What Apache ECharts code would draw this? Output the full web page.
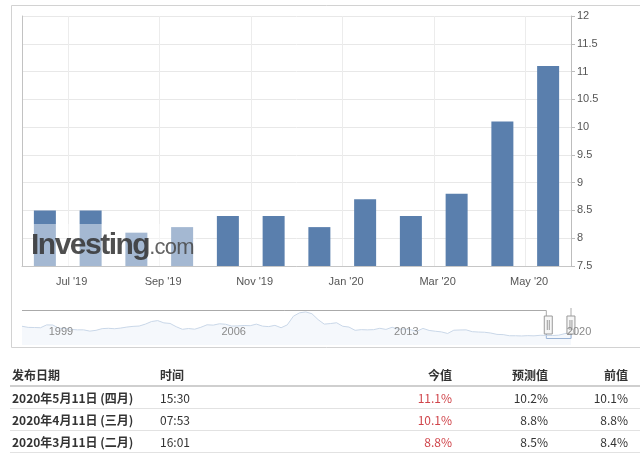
<!DOCTYPE html>
<html>
<head>
<meta charset="utf-8">
<script src="https://cdn.jsdelivr.net/npm/echarts@6/dist/echarts.min.js"></script>
<style>
  html, body { margin: 0; padding: 0; background: #fff; width: 640px; height: 455px; overflow: hidden; }
  #chart { position: absolute; left: 0; top: 0; width: 640px; height: 455px; }
  #wmbg { position: absolute; left: 33px; top: 224px; width: 163px; height: 42px; background: rgba(255,255,255,0.45); }
  #wm { position: absolute; left: 31px; top: 229px; white-space: nowrap; line-height: 30px; font-family: "Liberation Sans", Arial, sans-serif; }
  #wm .b { font-size: 30px; font-weight: bold; letter-spacing: -1.5px; color: rgba(55,55,55,0.88); }
  #wm .c { font-size: 22px; letter-spacing: -0.8px; color: rgba(70,70,70,0.85); }
  #tbl { position: absolute; left: 10px; top: 364px; width: 630px; border-collapse: collapse; table-layout: fixed;
         font-family: "Noto Sans CJK SC", "Noto Sans", sans-serif; font-size: 12px; color: #333; }
  #tbl th, #tbl td { padding: 0; height: 21px; line-height: 21px; white-space: nowrap; }
  #tbl th { font-weight: bold; text-align: left; border-bottom: 2px solid #cfcfcf; }
  #tbl td { border-bottom: 1px solid #e2e2e2; }
  #tbl .c1 { width: 148px; padding-left: 2px; }
  #tbl .c2 { width: 150px; }
  #tbl .c3 { width: 142px; text-align: right; }
  #tbl .c4 { width: 96px; text-align: right; }
  #tbl .c5 { width: 80px; text-align: right; padding-right: 12px; }
  #tbl td.c1 { font-weight: bold; }
  #tbl td.c3 { color: #d0454b; }
</style>
</head>
<body>
<div id="chart"></div>
<div id="wmbg"></div>
<div id="wm"><span class="b">Investing</span><span class="c">.com</span></div>
<table id="tbl">
  <thead><tr id="head"></tr></thead>
  <tbody id="rows"></tbody>
</table>
<script>
// Monthly release months and the M2 year-on-year growth (%) shown as bars
const months = ["Jun '19", "Jul '19", "Aug '19", "Sep '19", "Oct '19", "Nov '19",
                "Dec '19", "Jan '20", "Feb '20", "Mar '20", "Apr '20", "May '20"];
const m2Growth = [8.5, 8.5, 8.1, 8.2, 8.4, 8.4, 8.2, 8.7, 8.4, 8.8, 10.1, 11.1];

// Right value axis
const yMin = 7.5;
const yMax = 12;
const yStep = 0.5;

// Long-history navigator: quarterly readings 1998Q1 .. 2020Q2
const navYears = ['1998', '1999', '2000', '2001', '2002', '2003', '2004', '2005', '2006', '2007', '2008',
                  '2009', '2010', '2011', '2012', '2013', '2014', '2015', '2016', '2017', '2018', '2019', '2020'];
const navValues = [
  16.6, 15.6, 15.5, 15.3,
  17.8, 17.7, 14.8, 14.7,
  13.8, 13.4, 13.4, 12.3,
  13.0, 14.5, 14.8, 14.4,
  15.0, 15.9, 16.5, 16.8,
  18.5, 20.8, 21.6, 19.6,
  19.1, 16.2, 13.9, 14.6,
  14.0, 15.7, 17.9, 17.6,
  18.8, 18.4, 16.8, 16.9,
  17.3, 17.1, 18.5, 16.7,
  16.3, 17.4, 15.3, 17.8,
  25.5, 28.5, 29.3, 27.7,
  22.5, 18.5, 19.0, 19.7,
  16.6, 15.9, 13.0, 13.6,
  13.4, 13.6, 14.8, 13.8,
  15.7, 14.0, 14.2, 13.6,
  12.1, 14.7, 12.9, 12.2,
  11.6, 10.2, 13.1, 13.3,
  13.4, 11.8, 11.5, 11.3,
  10.6, 9.4, 9.2, 8.2,
  8.2, 8.0, 8.3, 8.1,
  8.6, 8.5, 8.4, 8.7,
  10.1, 11.1
];
const navYearLabels = ['1999', '2006', '2013', '2020'];
const navWindow = ['2019Q2', '2020Q2'];

// Release table
const tableHead = ['发布日期', '时间', '今值', '预测值', '前值'];
const relDates = ['2020年5月11日 (四月)', '2020年4月11日 (三月)', '2020年3月11日 (二月)'];
const relTimes = ['15:30', '07:53', '16:01'];
const actualVals = [11.1, 10.1, 8.8];
const forecastVals = [10.2, 8.8, 8.5];
const previousVals = [10.1, 8.8, 8.4];

// quarter category names for the navigator axis
const navQuarters = [];
navYears.forEach(y => ['Q1', 'Q2', 'Q3', 'Q4'].forEach(q => navQuarters.push(y + q)));
navQuarters.length = navValues.length;

// table
const pct = v => v.toFixed(1) + '%';
document.getElementById('head').innerHTML =
  tableHead.map((h, i) => '<th class="c' + (i + 1) + '">' + h + '</th>').join('');
document.getElementById('rows').innerHTML = relDates.map((d, i) =>
  '<tr><td class="c1">' + d + '</td><td class="c2">' + relTimes[i] + '</td><td class="c3">' +
  pct(actualVals[i]) + '</td><td class="c4">' + pct(forecastVals[i]) + '</td><td class="c5">' +
  pct(previousVals[i]) + '</td></tr>').join('');

const chart = echarts.init(document.getElementById('chart'), null, { renderer: 'canvas' });
const gridL = 22, gridR = 69;
const navTop = 310, navH = 35;

chart.setOption({
  animation: false,
  textStyle: { fontFamily: '"Liberation Sans", Arial, sans-serif' },
  grid: [
    { left: gridL, right: gridR, top: 16, height: 250 },
    { left: gridL, right: gridR, top: navTop, height: navH },
    { left: gridL, right: gridR, top: navTop, height: navH }
  ],
  xAxis: [
    {
      gridIndex: 0, type: 'category', data: months, boundaryGap: true,
      axisLine: { lineStyle: { color: '#c6c6c6' } },
      axisTick: { show: false },
      axisLabel: { interval: i => i % 2 === 1, color: '#555', fontSize: 11, margin: 10, padding: [0, 38, 0, 0] },
      splitLine: { show: true, interval: i => i % 2 === 1, lineStyle: { color: '#ececec' } }
    },
    {
      gridIndex: 1, type: 'category', data: navQuarters, boundaryGap: false, z: 10,
      axisLine: { show: false }, axisTick: { show: false },
      axisLabel: {
        inside: true, margin: 8, align: 'left', padding: [0, 0, 0, 2], color: '#8a8a8a', fontSize: 11,
        interval: (i, v) => navYearLabels.includes(v.slice(0, 4)) && v.slice(4) === 'Q1',
        formatter: v => v.slice(0, 4)
      },
      splitLine: { show: false }
    },
    { gridIndex: 2, type: 'category', data: navQuarters, boundaryGap: false, show: false }
  ],
  yAxis: [
    {
      gridIndex: 0, type: 'value', position: 'right', min: yMin, max: yMax, interval: yStep,
      axisLine: { show: true, lineStyle: { color: '#bdbdbd' } },
      axisTick: { show: true, length: 4, lineStyle: { color: '#bdbdbd' } },
      axisLabel: { color: '#555', fontSize: 11, margin: 6 },
      splitLine: { lineStyle: { color: '#e8e8e8' } }
    },
    { gridIndex: 1, type: 'value', min: 0, max: 31, show: false },
    { gridIndex: 2, type: 'value', min: 0, max: 31, show: false },
    {
      // left edge of the plot frame
      gridIndex: 0, type: 'value', position: 'left', min: yMin, max: yMax, interval: yStep,
      axisLine: { show: true, lineStyle: { color: '#c2c2c2' } },
      axisTick: { show: false }, axisLabel: { show: false }, splitLine: { show: false }
    }
  ],
  dataZoom: [{
    type: 'slider', xAxisIndex: 2, filterMode: 'none',
    startValue: navWindow[0], endValue: navWindow[1],
    left: gridL, right: gridR, top: 308, height: 34,
    showDataShadow: false, showDetail: false, brushSelect: false,
    moveHandleSize: 0, moveHandleStyle: { opacity: 0 },
    backgroundColor: 'rgba(0,0,0,0)', borderColor: 'rgba(0,0,0,0)', fillerColor: 'rgba(0,0,0,0)',
    handleIcon: 'path://M0,0H8V18H0Z M3,4V14 M5,4V14',
    handleSize: 18,
    handleStyle: { color: '#f6f6f6', borderColor: '#9a9a9a', borderWidth: 1 },
    emphasis: { handleStyle: { color: '#f6f6f6', borderColor: '#9a9a9a' } }
  }],
  series: [
    {
      type: 'bar', xAxisIndex: 0, yAxisIndex: 0, data: m2Growth, barWidth: 22,
      itemStyle: { color: '#5a7fad' }
    },
    {
      type: 'line', xAxisIndex: 1, yAxisIndex: 1, data: navValues, symbol: 'none', silent: true,
      lineStyle: { color: '#c9d7e8', width: 1 },
      areaStyle: { color: 'rgba(222,232,244,0.45)' }
    },
    {
      type: 'line', xAxisIndex: 2, yAxisIndex: 2, data: navValues, symbol: 'none', silent: true,
      lineStyle: { opacity: 0 }
    }
  ]
});

// navigator outline, following the selected window
const xL = chart.convertToPixel({ xAxisIndex: 1 }, navWindow[0]);
const xR = chart.convertToPixel({ xAxisIndex: 1 }, navWindow[1]);
const handleTop = 325 - 9;
chart.setOption({
  graphic: [
    { type: 'rect', silent: true, z: 0, shape: { x: 11.5, y: 5.5, width: 640, height: 342 },
      style: { fill: 'none', stroke: '#d2d2d2', lineWidth: 1 } },
    { type: 'polyline', silent: true, z: 1, shape: { points: [[gridL, navTop + 0.5], [xL, navTop + 0.5], [xL, handleTop]] },
      style: { fill: 'none', stroke: '#aaaaaa', lineWidth: 1 } },
    { type: 'line', silent: true, z: 1, shape: { x1: xR, y1: handleTop, x2: xR, y2: navTop - 2 },
      style: { stroke: '#aaaaaa', lineWidth: 1 } },
    { type: 'polyline', silent: true, z: 1, shape: { points: [[xL, 334], [xL, 338.5], [xR, 338.5], [xR, 334]] },
      style: { fill: 'none', stroke: '#7c9cc8', lineWidth: 1 } }
  ]
});
</script>
</body>
</html>
